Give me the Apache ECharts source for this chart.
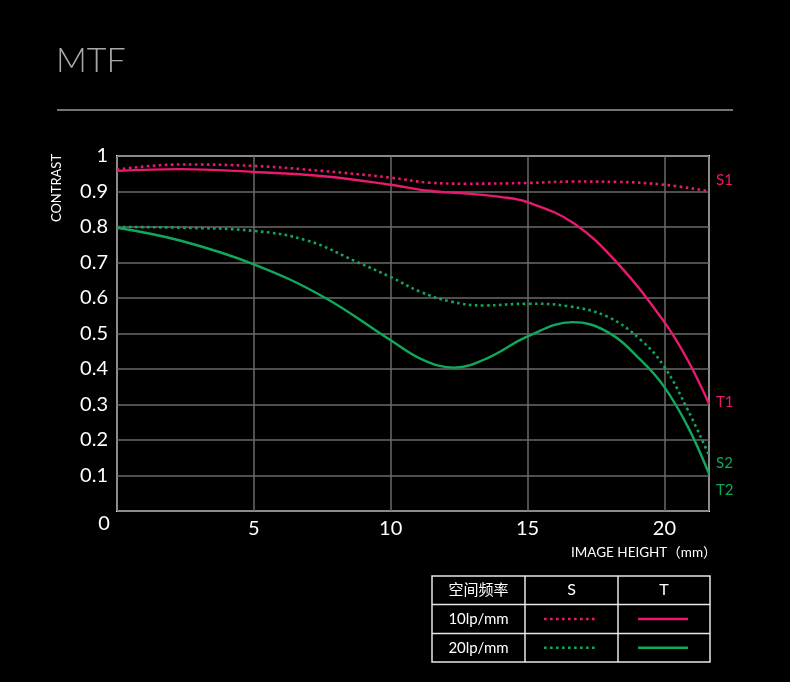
<!DOCTYPE html>
<html>
<head>
<meta charset="utf-8">
<style>
    html, body { margin: 0; padding: 0; background: #000; }
    #mtf { width: 790px; height: 682px; }
</style>
<script src="https://cdn.jsdelivr.net/npm/echarts@6/dist/echarts.min.js"></script>
</head>
<body>
<div id="mtf"></div>
<script>
    // image height (mm) -> contrast
    var s1 = [[0, 0.962], [2.3, 0.976], [5, 0.972], [7.5, 0.958], [10, 0.939], [11.4, 0.925], [12.8, 0.922], [15, 0.924], [16.7, 0.928], [18.3, 0.927], [20, 0.919], [21.63, 0.901]];
    var t1 = [[0, 0.958], [2.3, 0.963], [5, 0.955], [7.55, 0.943], [10, 0.919], [11.4, 0.902], [12.8, 0.894], [14, 0.885], [15, 0.870], [16.7, 0.810], [18.3, 0.697], [20, 0.532], [20.86, 0.424], [21.63, 0.302]];
    var s2 = [[0, 0.800], [2.3, 0.798], [5, 0.789], [6.95, 0.762], [8.78, 0.701], [10, 0.659], [11.1, 0.617], [12.2, 0.590], [13.4, 0.579], [15, 0.584], [16.47, 0.577], [17.93, 0.547], [19.15, 0.481], [20, 0.406], [20.86, 0.284], [21.63, 0.157]];
    var t2 = [[0, 0.798], [2.3, 0.762], [5, 0.695], [7.55, 0.603], [10, 0.481], [11.2, 0.425], [12.32, 0.404], [13.6, 0.433], [15, 0.492], [16.65, 0.532], [17.93, 0.504], [19.15, 0.424], [20, 0.349], [20.86, 0.237], [21.63, 0.105]];

    var xTicks = [5, 10, 15, 20];
    var yTicks = [0.1, 0.2, 0.3, 0.4, 0.5, 0.6, 0.7, 0.8, 0.9, 1];
    var endLabels = [['S1', 180], ['T1', 402], ['S2', 463], ['T2', 490]];
    var tableHead = ['空间频率', 'S', 'T'];
    var tableRows = ['10lp/mm', '20lp/mm'];

    var PINK = '#e8196f';
    var GREEN = '#10a95b';
    var FONT = 'Lato, "Noto Sans", sans-serif';

    var chart = echarts.init(document.getElementById('mtf'));

    function curve(name, data, color, dotted) {
        return {
            name: name,
            type: 'line',
            data: data,
            smooth: 0.4,
            symbol: 'none',
            silent: true,
            lineStyle: {
                color: color,
                width: dotted ? 2.6 : 2.4,
                type: dotted ? [2.6, 3.4] : 'solid'
            },
            z: dotted ? 3 : 4
        };
    }

    // title, table and loose labels
    var g = [];
    g.push({ type: 'text', left: 56, top: 44, style: { text: 'MTF', fill: '#a8a8a8', font: '300 34px ' + FONT } });
    g.push({ type: 'line', shape: { x1: 57, y1: 110, x2: 733, y2: 110 }, style: { stroke: '#9a9a9a', lineWidth: 1.5 } });
    g.push({
        type: 'text', x: 57, y: 188, rotation: Math.PI / 2,
        style: { text: 'CONTRAST', fill: '#fff', font: '13px ' + FONT, align: 'center', verticalAlign: 'middle' }
    });
    g.push({ type: 'text', x: 104, y: 524, style: { text: '0', fill: '#fff', font: '20px ' + FONT, align: 'center', verticalAlign: 'middle' } });
    g.push({ type: 'text', x: 571, y: 553, style: { text: 'IMAGE HEIGHT（mm）', fill: '#fff', font: '13.5px ' + FONT + ', "Noto Sans CJK SC"', align: 'left', verticalAlign: 'middle' } });
    endLabels.forEach(function (e, i) {
        g.push({ type: 'text', x: 716, y: e[1], style: { text: e[0], fill: i < 2 ? PINK : GREEN, font: '15px ' + FONT, verticalAlign: 'middle' } });
    });

    var colX = [432, 525, 618, 710];
    var rowY = [576, 604.5, 633.5, 662];
    g.push({ type: 'rect', shape: { x: colX[0], y: rowY[0], width: colX[3] - colX[0], height: rowY[3] - rowY[0] }, style: { fill: 'none', stroke: '#e8e8e8', lineWidth: 1.5 } });
    [1, 2].forEach(function (i) {
        g.push({ type: 'line', shape: { x1: colX[i], y1: rowY[0], x2: colX[i], y2: rowY[3] }, style: { stroke: '#e8e8e8', lineWidth: 1.5 } });
        g.push({ type: 'line', shape: { x1: colX[0], y1: rowY[i], x2: colX[3], y2: rowY[i] }, style: { stroke: '#e8e8e8', lineWidth: 1.5 } });
    });
    tableHead.forEach(function (t, i) {
        g.push({ type: 'text', x: (colX[i] + colX[i + 1]) / 2, y: (rowY[0] + rowY[1]) / 2, style: { text: t, fill: '#fff', font: (i ? '16px ' : '15px ') + FONT + ', "Noto Sans CJK SC"', align: 'center', verticalAlign: 'middle' } });
    });
    tableRows.forEach(function (t, r) {
        var cy = (rowY[r + 1] + rowY[r + 2]) / 2;
        var c = r === 0 ? PINK : GREEN;
        g.push({ type: 'text', x: (colX[0] + colX[1]) / 2, y: cy, style: { text: t, fill: '#fff', font: '15px ' + FONT, align: 'center', verticalAlign: 'middle' } });
        g.push({ type: 'line', shape: { x1: 544, y1: cy, x2: 597, y2: cy }, style: { stroke: c, lineWidth: 2.6, lineDash: [2.6, 3.4] } });
        g.push({ type: 'line', shape: { x1: 638, y1: cy, x2: 688, y2: cy }, style: { stroke: c, lineWidth: 2.6 } });
    });

    chart.setOption({
        backgroundColor: '#000',
        animation: false,
        grid: {
            left: 117, right: 81, top: 156, bottom: 171,
            show: true, borderColor: '#f0f0f0', borderWidth: 2
        },
        xAxis: {
            type: 'value', min: 0, max: 21.63, interval: 5,
            axisLine: { show: false },
            axisTick: { show: false },
            splitLine: { lineStyle: { color: '#6a6a6a', width: 1.5 } },
            axisLabel: {
                color: '#fff', fontSize: 20, fontFamily: FONT, margin: 8,
                formatter: function (v) { return xTicks.indexOf(v) >= 0 ? String(v) : ''; }
            }
        },
        yAxis: {
            type: 'value', min: 0, max: 1, interval: 0.1,
            axisLine: { show: false },
            axisTick: { show: false },
            splitLine: { lineStyle: { color: '#6a6a6a', width: 1.5 } },
            axisLabel: {
                color: '#fff', fontSize: 20, fontFamily: FONT, margin: 9,
                formatter: function (v) {
                    var r = Math.round(v * 10) / 10;
                    if (yTicks.indexOf(r) < 0) return '';
                    return r === 1 ? '1' : r.toFixed(1);
                }
            }
        },
        series: [
            curve('S1', s1, PINK, true),
            curve('T1', t1, PINK, false),
            curve('S2', s2, GREEN, true),
            curve('T2', t2, GREEN, false)
        ],
        graphic: g
    });
</script>
</body>
</html>
